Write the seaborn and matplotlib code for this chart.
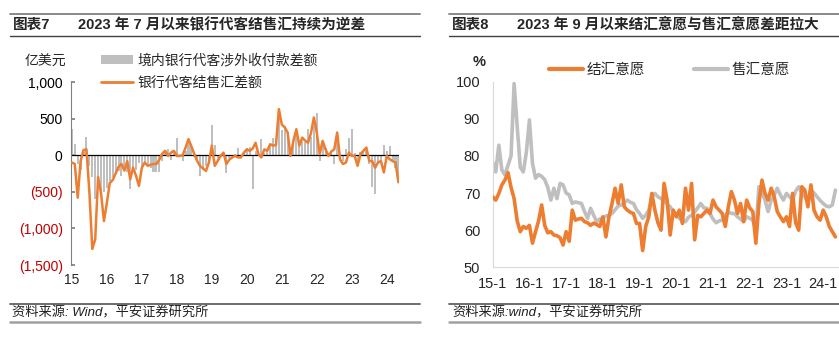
import numpy as np
import pandas as pd
import matplotlib
matplotlib.use("Agg")
import matplotlib.pyplot as plt
import seaborn as sns
from matplotlib.lines import Line2D
from matplotlib.patches import Patch

# ---------------- data ----------------
# Chart 7: monthly 2015-01 .. 2024-05 (100 million USD)
cross_border_net = [
    360, 150, -120, -200, 40, 250, -150, -300, -600, -450, -550, -500,
    -450, -350, -300, -250, -220, -280, -150, -230, -460, -180, -200, -100,
    -150, -90, -120, -170, -230, -230, -230, -80, 40, 80, -60, 50,
    240, -30, -80, 60, 200, 150, -20, -60, -280, -200, -150, -60,
    410, 140, -60, -30, 30, -245, -40, -20, 20, 105, -30, 40,
    105, 110, -465, 60, 50, 220, 30, 60, 150, 240, 150, 560,
    350, 400, 300, 50, 150, 300, 150, 200, 180, 355, 250, 400,
    580, -80, 150, 100, 20, 60, -120, 250, -40, -80, 80, 240,
    355, 30, -100, 50, 60, 80, -120, -440, -530, -120, -60, 140,
    60, 130, -60, -170, -300,
]
fx_settlement_net = [
    -100, -120, -580, -80, 70, 80, -500, -1280, -1150, -300, -520, -900,
    -650, -380, -340, -250, -160, -120, -210, -80, -330, -170, -280, -420,
    -170, -100, -145, -130, -120, -120, -60, 20, 60, -10, 35, 60,
    -10, -10, 0, 105, 220, 120, 15, -80, -150, -180, -215, -100,
    130, -145, -80, -10, 35, -120, -60, -30, -10, -30, -30, 35,
    80, 60, 90, 170, 15, -30, 80, 60, 150, 130, 140, 630,
    420, 380, 310, -10, 200, 355, 130, 240, 200, 170, 300, 515,
    310, 15, 195, 80, -10, 50, 80, 310, -60, -120, -100, 35,
    -10, -10, -145, 15, 60, 105, -80, -80, -170, -100, -80, -235,
    -10, -55, -80, -100, -370,
]
year_labels_7 = ["15", "16", "17", "18", "19", "20", "21", "22", "23", "24"]
ytick_vals_7 = [-1500, -1000, -500, 0, 500, 1000]
ytick_labels_7 = ["(1,500)", "(1,000)", "(500)", "0", "500", "1,000"]

# Chart 8: monthly 2015-01 .. 2024-05 (%)
settle_willing = [
    69, 68.1, 69.9, 72.2, 73.5, 75.5, 71.5, 68.5, 62.5, 59.6, 61, 60.5,
    61.3, 56.5, 59.6, 62.5, 66.8, 61.3, 59.3, 59.6, 58.7, 58.5, 58, 56,
    59.6, 57, 65.4, 62.7, 63, 63.2, 62.3, 62, 61.3, 61.9, 61.5, 61,
    63.6, 58.2, 63.6, 67.2, 71.3, 67.2, 72.2, 66.3, 65.4, 64.8, 64.5, 61.8,
    61.8, 54.5, 61, 63.6, 69.9, 65.4, 62, 60, 72.6, 68.1, 58.7, 65.4,
    63.6, 65.4, 61.8, 71.3, 65.4, 72.6, 57.4, 64, 63.6, 64.5, 65.4, 64.5,
    68.1, 66.3, 65.4, 64.5, 61, 66.3, 70.4, 68.1, 64.5, 67.2, 62.3, 68.1,
    66, 65, 56.5, 67.2, 73.5, 69.9, 68.1, 71.3, 69, 65, 63.6, 62.3,
    63.6, 61, 69.9, 62, 60, 71.7, 70.8, 66.3, 72.2, 65.4, 63.6, 62.7,
    65.4, 63.6, 61, 59.6, 58.2,
]
sell_willing = [
    78.4, 75.7, 82.9, 76.2, 74.9, 77.5, 80, 99.5, 88, 77, 75.7, 81,
    89.7, 78, 74, 75, 74.5, 73.6, 71.5, 68.1, 71.3, 68.5, 72.6, 72.2,
    70, 69.5, 67.2, 67.6, 67.4, 67.2, 65, 63.2, 65.9, 64, 62.3, 63,
    63.2, 63.8, 64, 64.5, 65.5, 66.5, 66.8, 67.5, 68.1, 67.5, 67.2, 65.5,
    64.5, 63.2, 64, 65.4, 69, 69.9, 69, 68.5, 68.1, 67, 66.3, 64.8,
    64.5, 63.2, 62.5, 62.3, 63.5, 64, 64.9, 66, 67.2, 66, 65.9, 64.5,
    63, 62, 62.5, 62.7, 64, 64.9, 64.5, 64.5, 63.6, 63, 62.3, 63.6,
    63.2, 62.7, 60, 71.7, 70, 68.1, 65, 68.1, 69.5, 71.3, 69.5, 68.1,
    69.9, 69, 68.1, 70.5, 71.7, 70, 69, 67.6, 70.8, 70, 69, 68,
    67.2, 66.5, 66.3, 66.8, 70.8,
]
year_labels_8 = ["15-1", "16-1", "17-1", "18-1", "19-1", "20-1", "21-1", "22-1", "23-1", "24-1"]
ytick_vals_8 = [50, 60, 70, 80, 90, 100]

# ---------------- style ----------------
sns.set_theme(style="white")
plt.rcParams["font.family"] = ["Liberation Sans", "Noto Sans CJK SC"]
plt.rcParams["axes.unicode_minus"] = False

ORANGE = "#ED7D31"
GRAY = "#BFBFBF"
RED = "#C00000"

W, H = 839, 342
fig = plt.figure(figsize=(W / 100, H / 100), dpi=100)


def fx(px):
    return px / W


def fy(py):
    return 1 - py / H


def hline(x0, x1, y, color, lw):
    fig.add_artist(Line2D([fx(x0), fx(x1)], [fy(y), fy(y)], color=color, lw=lw,
                          transform=fig.transFigure))


# ---------------- chart 7 ----------------
n7 = len(fx_settlement_net)
df7 = pd.DataFrame({"m": np.arange(n7), "bar": cross_border_net, "line": fx_settlement_net})
ax1 = fig.add_axes([fx(71), fy(265), fx(399) - fx(71), fy(82) - fy(265)])
sns.barplot(data=df7, x="m", y="bar", native_scale=True, color=GRAY, width=0.7,
            saturation=1, errorbar=None, ax=ax1, zorder=2, linewidth=0,
            edgecolor="none")
sns.lineplot(data=df7, x="m", y="line", color=ORANGE, lw=1.8, ax=ax1, zorder=3)
ax1.axhline(0, color="black", lw=0.9, zorder=2.5)
ax1.set_xlim(-0.3, n7 - 0.8)
ax1.set_ylim(-1500, 1000)
ax1.set_xticks(np.arange(len(year_labels_7)) * 12)
ax1.set_xticklabels(year_labels_7, fontsize=10)
ax1.set_yticks(ytick_vals_7)
ax1.set_yticklabels(ytick_labels_7, fontsize=10)
for lab, v in zip(ax1.get_yticklabels(), ytick_vals_7):
    lab.set_color(RED if v < 0 else "black")
ax1.tick_params(axis="x", length=0, pad=6)
ax1.tick_params(axis="y", length=3, direction="in", color="#808080", pad=6, left=True)
for s in ["top", "right", "bottom"]:
    ax1.spines[s].set_visible(False)
ax1.spines["left"].set_color("#808080")
ax1.spines["left"].set_linewidth(0.8)
ax1.set_xlabel("")
ax1.set_ylabel("")
fig.text(fx(25), fy(62), "亿美元", fontsize=10, va="center", ha="left")
h7 = [Patch(facecolor=GRAY, edgecolor="none"), Line2D([], [], color=ORANGE, lw=2)]
fig.legend(h7, ["境内银行代客涉外收付款差额", "银行代客结售汇差额"], loc="upper left",
           bbox_to_anchor=(fx(101), fy(53)), frameon=False, fontsize=10,
           handlelength=2.3, handleheight=0.6, handletextpad=0.3, labelspacing=0.65,
           borderpad=0, borderaxespad=0)

# ---------------- chart 8 ----------------
n8 = len(settle_willing)
df8 = pd.DataFrame({"m": np.arange(n8), "结汇意愿": settle_willing, "售汇意愿": sell_willing})
per_month = 3.06
ax2 = fig.add_axes([fx(492.7), fy(267.3), fx(118 * per_month), fy(81.7) - fy(267.3)])
sns.lineplot(data=df8, x="m", y="售汇意愿", color=GRAY, lw=2.6, ax=ax2, zorder=2)
sns.lineplot(data=df8, x="m", y="结汇意愿", color=ORANGE, lw=2.6, ax=ax2, zorder=3)
ax2.set_xlim(0, 118)
ax2.set_ylim(50, 100)
ax2.set_xticks(np.arange(len(year_labels_8)) * 12)
ax2.set_xticklabels(year_labels_8, fontsize=10.5)
ax2.set_yticks(ytick_vals_8)
ax2.set_yticklabels([str(v) for v in ytick_vals_8], fontsize=10.5)
ax2.tick_params(axis="x", length=0, pad=7)
ax2.tick_params(axis="y", length=0, pad=9)
for s in ["top", "right"]:
    ax2.spines[s].set_visible(False)
for s in ["left", "bottom"]:
    ax2.spines[s].set_color("#D9D9D9")
    ax2.spines[s].set_linewidth(0.8)
ax2.set_xlabel("")
ax2.set_ylabel("")
fig.text(fx(479), fy(62), "%", fontsize=10.5, fontweight="bold", va="center", ha="center")
h8 = [Line2D([], [], color=ORANGE, lw=3), Line2D([], [], color=GRAY, lw=3)]
fig.legend(h8, ["结汇意愿", "售汇意愿"], loc="center left", ncol=2,
           bbox_to_anchor=(fx(549), fy(70)), frameon=False, fontsize=10.5,
           handlelength=2.3, handletextpad=0.25, columnspacing=3.4,
           borderpad=0, borderaxespad=0)

# ---------------- titles and footers ----------------
hline(10, 420, 13.5, "#808080", 1.3)
hline(10, 420, 36, "#404040", 1.0)
fig.text(fx(13), fy(25), "图表7", fontsize=10.5, fontweight="bold", va="center")
fig.text(fx(78), fy(25), "2023 年 7 月以来银行代客结售汇持续为逆差", fontsize=10.5,
         fontweight="bold", va="center")
hline(449, 839, 13.5, "#808080", 1.3)
hline(449, 839, 36, "#404040", 1.0)
fig.text(fx(452), fy(25), "图表8", fontsize=10.5, fontweight="bold", va="center")
fig.text(fx(517), fy(25), "2023 年 9 月以来结汇意愿与售汇意愿差距拉大", fontsize=10.5,
         fontweight="bold", va="center")

hline(10, 420, 304, "#606060", 1.3)
hline(10, 420, 322, "#A0A0A0", 1.8)
fig.text(fx(12), fy(313), "资料来源: Wind，平安证券研究所", fontsize=9.5, style="italic",
         va="center", color="#202020")
hline(449, 839, 304, "#606060", 1.3)
hline(449, 839, 322, "#A0A0A0", 1.8)
fig.text(fx(452), fy(313), "资料来源:wind，平安证券研究所", fontsize=9.5, style="italic",
         va="center", color="#202020")

fig.savefig("out.png", dpi=100)
